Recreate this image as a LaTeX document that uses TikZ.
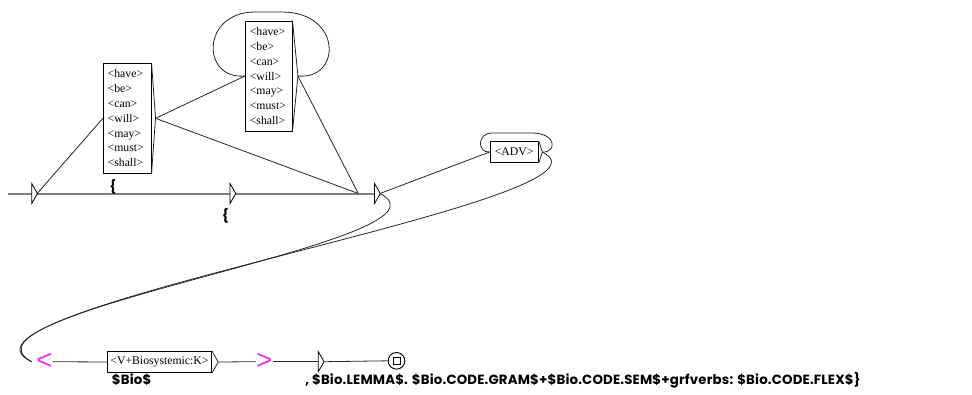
\documentclass[tikz,border=0pt]{standalone}
\usepackage{fontspec}
\setmainfont{Liberation Serif}
\newfontfamily\outfont[LetterSpace=1.2]{Poppins}
\newfontfamily\magfont{Liberation Sans}
\usetikzlibrary{calc}
\definecolor{mainline}{RGB}{128,128,128}
\definecolor{mag}{RGB}{225,60,225}
\begin{document}
\begin{tikzpicture}[x=0.75pt,y=-0.75pt,
  boxst/.style={draw=black, line width=0.7pt, fill=white, inner ysep=0pt, inner xsep=3.3pt,
    font=\fontsize{8.8}{11.1}\selectfont, align=left, minimum height=82.5pt},
  onebox/.style={draw=black, line width=0.7pt, fill=white, inner sep=0pt,
    font=\fontsize{8.8}{11.1}\selectfont, minimum height=15.4pt},
  tri/.style={draw=black, line width=0.6pt, fill=white},
  conn/.style={draw=black!85, line width=0.6pt},
  mainconn/.style={draw=mainline, line width=1.5pt},
  outtxt/.style={font=\outfont\bfseries\fontsize{10}{11}\selectfont, inner sep=0pt},
  magtxt/.style={text=mag, font=\magfont\fontsize{21}{21}\selectfont, inner sep=0pt},
  finalst/.style={draw=black, line width=0.7pt, circle, minimum size=12.5pt, inner sep=0pt}
]
\useasboundingbox (0,0) rectangle (972,394);

% upper states
\coordinate (start) at (8,193.5);
\coordinate (t1) at (31.7,193.5);
\coordinate (t1o) at (37.2,193.5);
\coordinate (t2) at (230,193.5);
\coordinate (t2o) at (235.5,193.5);
\coordinate (t3) at (374.5,193.5);
\coordinate (t3o) at (380,193.5);
\coordinate (j3) at (358.3,193.5);

\node[boxst, text width=29.2pt] (b1) at (127.2,118.3)
  {<have>\\<be>\\<can>\\<will>\\<may>\\<must>\\<shall>};
\node[boxst, text width=28.3pt] (b2) at (268.7,76)
  {<have>\\<be>\\<can>\\<will>\\<may>\\<must>\\<shall>};
\node[onebox, minimum width=36.2pt] (adv) at (514.2,152) {<ADV>};

\coordinate (b1x) at ($(b1.east)+(4,0)$);
\coordinate (b2x) at ($(b2.east)+(5.5,0)$);
\coordinate (advx) at ($(adv.east)+(3.5,0)$);

% main line
\draw[mainconn] (start) -- (t1) (t1o) -- (t2) (t2o) -- (t3);

% connectors
\draw[conn] (t1o) -- (b1.west);
\draw[conn] (b1x) -- (b2.west);
\draw[conn] (b1x) -- (j3);
\draw[conn] (b2x) -- (j3);
\draw[conn] (t3o) -- (adv.west);

% loops
\draw[conn] (b2.west) .. controls (201,80) and (201,12) .. (255,12) -- (282,12)
  .. controls (342,12) and (342,80) .. (b2x);
\draw[conn] (adv.west) .. controls (477,153) and (477,133) .. (492,133) -- (532,133)
  .. controls (557,133) and (557,153) .. (advx);

% bracket marks
\draw[conn] (b1.north east) -- (b1x) -- (b1.south east);
\draw[conn] (b2.north east) -- (b2x) -- (b2.south east);
\draw[conn] (adv.north east) -- (advx) -- (adv.south east);

% lower states
\node[magtxt] (lt) at (44.2,361.7) {<};
\node[onebox, minimum width=78.3pt] (bio) at (159.5,362) {<V+Biosystemic:K>};
\coordinate (biox) at ($(bio.east)+(6,0)$);
\node[magtxt] (gt) at (264.2,361.7) {>};
\coordinate (t4) at (318.3,361.7);
\coordinate (t4o) at (324.8,361.7);
\node[finalst] (fin) at (396.5,360.8) {};
\draw[line width=0.6pt] ($(fin)+(-3.5,-3.5)$) rectangle ($(fin)+(3.5,3.5)$);

\draw[conn] (bio.north east) -- (biox) -- (bio.south east);

% back curves
\draw[conn] (advx) .. controls (640,200) and (-80,310) .. ($(lt.west)+(-4,0)$);
\draw[conn] (t3o) .. controls (470,240) and (-60,312) .. ($(lt.west)+(-4,0)$);

\draw[conn] (lt.east) -- (bio.west);
\draw[conn] (biox) -- (gt.west);
\draw[conn] (gt.east) -- (t4);
\draw[conn] (t4o) -- (fin.west);

% triangles
\foreach \t in {t1,t2,t3,t4}
  \draw[tri] ($(\t)+(0,-10)$) -- ($(\t)+(5.8,0)$) -- ($(\t)+(0,10)$) -- cycle;

% outputs
\node[outtxt, anchor=base] (o1) at (113,191) {\{};
\node[outtxt, anchor=base] (o2) at (225.5,220) {\{};
\node[outtxt, anchor=base west] (o3) at (111.7,384) {\$Bio\$};
\node[outtxt, anchor=base west] (o4) at (305,384)
  {, \$Bio.LEMMA\$. \$Bio.CODE.GRAM\$+\$Bio.CODE.SEM\$+grfverbs: \$Bio.CODE.FLEX\$\}};
\end{tikzpicture}
\end{document}
